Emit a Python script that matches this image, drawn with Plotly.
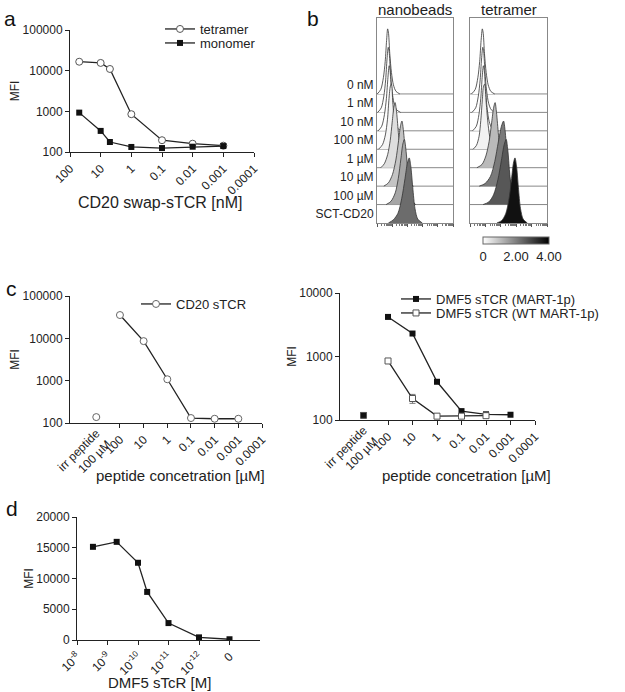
import plotly.graph_objects as go

W, H = 625, 692
FONT = "Arial, Liberation Sans, Helvetica, sans-serif"
INK = "#222222"

# ---------------- panel a ----------------
a_conc = [50, 10, 5, 1, 0.1, 0.01, 0.001]
a_tetramer = [16600, 15500, 11000, 850, 195, 160, 143]
a_tetramer_err = [0, 1400, 0, 90, 0, 8, 8]
a_monomer = [930, 330, 176, 133, 125, 135, 140]
a_xticks = [100, 10, 1, 0.1, 0.01, 0.001, 0.0001]
a_xticktext = ["100", "10", "1", "0.1", "0.01", "0.001", "0.0001"]
log_yticks = [100, 1000, 10000, 100000]

# ---------------- panel b ----------------
b_rows = ["0 nM", "1 nM", "10 nM", "100 nM", "1 µM", "10 µM", "100 µM", "SCT-CD20"]
nb_x = [
    [0.02, 0.25, 0.42, 0.54, 0.63, 0.70, 0.76, 0.84, 0.95, 1.08, 1.25, 1.50],
    [0.05, 0.28, 0.45, 0.57, 0.66, 0.74, 0.80, 0.88, 0.99, 1.12, 1.29, 1.55],
    [0.08, 0.31, 0.49, 0.62, 0.72, 0.80, 0.86, 0.94, 1.05, 1.18, 1.35, 1.60],
    [0.10, 0.36, 0.55, 0.69, 0.79, 0.88, 0.95, 1.04, 1.16, 1.30, 1.48, 1.72],
    [0.25, 0.48, 0.70, 0.87, 1.00, 1.11, 1.19, 1.29, 1.42, 1.56, 1.75, 1.98],
    [0.45, 0.75, 1.02, 1.24, 1.42, 1.55, 1.64, 1.74, 1.87, 2.00, 2.17, 2.40],
    [0.60, 0.92, 1.20, 1.40, 1.57, 1.70, 1.80, 1.90, 2.03, 2.16, 2.32, 2.55],
    [0.75, 1.08, 1.38, 1.63, 1.84, 2.00, 2.12, 2.22, 2.35, 2.50, 2.68, 2.98],
]
nb_y = [
    [0, 0.07, 0.25, 0.50, 0.82, 1.00, 0.93, 0.62, 0.33, 0.14, 0.04, 0],
    [0, 0.07, 0.25, 0.50, 0.82, 1.00, 0.93, 0.62, 0.33, 0.14, 0.04, 0],
    [0, 0.07, 0.25, 0.50, 0.82, 1.00, 0.93, 0.62, 0.33, 0.14, 0.04, 0],
    [0, 0.07, 0.22, 0.46, 0.78, 0.97, 1.00, 0.72, 0.38, 0.16, 0.05, 0],
    [0, 0.06, 0.20, 0.42, 0.70, 0.93, 1.00, 0.85, 0.50, 0.20, 0.05, 0],
    [0, 0.05, 0.18, 0.40, 0.70, 0.93, 1.00, 0.85, 0.50, 0.20, 0.05, 0],
    [0, 0.05, 0.18, 0.40, 0.70, 0.93, 1.00, 0.85, 0.50, 0.20, 0.05, 0],
    [0, 0.05, 0.15, 0.38, 0.68, 0.92, 1.00, 0.88, 0.55, 0.22, 0.06, 0],
]
nb_fill = ["#ffffff", "#ffffff", "#ffffff", "#f5f5f5", "#dedede", "#c4c4c4", "#a6a6a6", "#6c6c6c"]

tet_x = [
    [0.10, 0.34, 0.51, 0.63, 0.72, 0.80, 0.86, 0.94, 1.05, 1.18, 1.35, 1.60],
    [0.13, 0.37, 0.54, 0.66, 0.75, 0.83, 0.89, 0.97, 1.08, 1.21, 1.38, 1.63],
    [0.17, 0.41, 0.58, 0.70, 0.79, 0.87, 0.93, 1.01, 1.12, 1.25, 1.42, 1.67],
    [0.20, 0.42, 0.59, 0.70, 0.80, 0.88, 0.95, 1.05, 1.18, 1.32, 1.50, 1.78],
    [0.45, 0.78, 1.03, 1.24, 1.41, 1.54, 1.63, 1.72, 1.85, 1.98, 2.15, 2.40],
    [0.60, 0.98, 1.33, 1.61, 1.84, 2.04, 2.18, 2.28, 2.40, 2.52, 2.68, 2.90],
    [0.85, 1.22, 1.53, 1.81, 2.04, 2.22, 2.35, 2.45, 2.57, 2.70, 2.85, 3.10],
    [1.75, 2.07, 2.33, 2.54, 2.70, 2.82, 2.92, 3.02, 3.14, 3.28, 3.45, 3.72],
]
tet_y = [
    [0, 0.07, 0.25, 0.50, 0.82, 1.00, 0.93, 0.62, 0.33, 0.14, 0.04, 0],
    [0, 0.07, 0.25, 0.50, 0.82, 1.00, 0.93, 0.62, 0.33, 0.14, 0.04, 0],
    [0, 0.07, 0.25, 0.50, 0.82, 1.00, 0.93, 0.62, 0.33, 0.14, 0.04, 0],
    [0, 0.06, 0.20, 0.44, 0.76, 0.97, 1.00, 0.72, 0.37, 0.15, 0.05, 0],
    [0, 0.05, 0.18, 0.40, 0.70, 0.93, 1.00, 0.85, 0.50, 0.20, 0.05, 0],
    [0, 0.04, 0.15, 0.38, 0.68, 0.92, 1.00, 0.85, 0.50, 0.20, 0.05, 0],
    [0, 0.04, 0.15, 0.38, 0.68, 0.92, 1.00, 0.85, 0.50, 0.20, 0.05, 0],
    [0, 0.04, 0.15, 0.38, 0.68, 0.92, 1.00, 0.88, 0.55, 0.22, 0.06, 0],
]
tet_fill = ["#ffffff", "#ffffff", "#ffffff", "#f2f2f2", "#bababa", "#7a7a7a", "#575757", "#111111"]
cbar_ticks = [0, 2, 4]
cbar_text = ["0", "2.00", "4.00"]

# ---------------- panel c ----------------
c_cats = ["irr", "100", "10", "1", "0.1", "0.01", "0.001", "0.0001"]
c_irr_label = "irr peptide<br>100 µM"
cl_irr = [138]
cl_x = ["100", "10", "1", "0.1", "0.01", "0.001"]
cl_mfi = [35500, 8600, 1080, 131, 126, 126]
cr_irr_mart = [120]
cr_irr_wt = [118]
cr_mart_x = ["100", "10", "1", "0.1", "0.01", "0.001"]
cr_mart = [4200, 2300, 400, 138, 123, 121]
cr_wt_x = ["100", "10", "1", "0.1", "0.01"]
cr_wt = [850, 218, 115, 115, 117]
cr_wt_err = [30, 35, 0, 0, 0]

# ---------------- panel d ----------------
d_conc = [3e-9, 5e-10, 1e-10, 5e-11, 1e-11, 1e-12, 0]
d_mfi = [15150, 15960, 12560, 7820, 2750, 430, 120]
d_xticks = [1e-8, 1e-9, 1e-10, 1e-11, 1e-12, 0]
d_xticktext = ["10<sup>-8</sup>", "10<sup>-9</sup>", "10<sup>-10</sup>",
               "10<sup>-11</sup>", "10<sup>-12</sup>", "0"]
d_yticks = [0, 5000, 10000, 15000, 20000]
ZERO_POS = 1e-13  # position of the "0" category on the log axis


def fx(p):
    return p / W


def fy(p):
    return 1 - p / H


def dom_x(a, b):
    return [fx(a), fx(b)]


def dom_y(top, bottom):
    return [fy(bottom), fy(top)]


fig = go.Figure()
ERR = dict(type="data", thickness=1, width=3, color="#777")

# ---- panel a traces
fig.add_trace(go.Scatter(
    x=a_conc, y=a_tetramer, name="tetramer", mode="lines+markers",
    error_y=dict(ERR, array=a_tetramer_err),
    line=dict(color=INK, width=1.3),
    marker=dict(symbol="circle", size=7, color="white", line=dict(color="#555", width=1)),
    xaxis="x", yaxis="y", legend="legend"))
fig.add_trace(go.Scatter(
    x=a_conc, y=a_monomer, name="monomer", mode="lines+markers",
    line=dict(color=INK, width=1.3),
    marker=dict(symbol="square", size=6, color="#111"),
    xaxis="x", yaxis="y", legend="legend4"))

# ---- panel b traces
ROW_UNIT_PEAK = 3.53
n_rows = len(b_rows)
for xs_all, ys_all, fills, xa, ya in [(nb_x, nb_y, nb_fill, "x2", "y2"),
                                      (tet_x, tet_y, tet_fill, "x3", "y3")]:
    for i in range(n_rows):
        base = n_rows - 1 - i
        fig.add_trace(go.Scatter(
            x=xs_all[i], y=[base + v * ROW_UNIT_PEAK for v in ys_all[i]],
            mode="lines", line=dict(color="#333", width=0.8, shape="spline", smoothing=0.8),
            fill="toself", fillcolor=fills[i], showlegend=False,
            xaxis=xa, yaxis=ya, hoverinfo="skip"))

# colour bar (gradient legend for panel b)
fig.add_trace(go.Scatter(
    x=[None], y=[None], mode="markers", showlegend=False, xaxis="x3", yaxis="y3",
    marker=dict(color=[0], cmin=0, cmax=4, colorscale=[[0, "white"], [1, "black"]],
                showscale=True,
                colorbar=dict(orientation="h", x=fx(516), xanchor="center",
                              y=fy(237), yanchor="top", len=66 / W, lenmode="fraction",
                              thickness=7, thicknessmode="pixels", outlinewidth=1,
                              outlinecolor="#666", tickvals=cbar_ticks, ticktext=cbar_text,
                              ticks="", tickfont=dict(size=13, color=INK, family=FONT),
                              xpad=0, ypad=0))))

# ---- panel c traces
fig.add_trace(go.Scatter(
    x=cl_x, y=cl_mfi, name="CD20 sTCR", mode="lines+markers",
    line=dict(color=INK, width=1.3),
    marker=dict(symbol="circle", size=7, color="white", line=dict(color="#666", width=1)),
    xaxis="x4", yaxis="y4", legend="legend2"))
fig.add_trace(go.Scatter(
    x=["irr"], y=cl_irr, mode="markers", showlegend=False,
    marker=dict(symbol="circle", size=7, color="white", line=dict(color="#666", width=1)),
    xaxis="x4", yaxis="y4"))

fig.add_trace(go.Scatter(
    x=cr_mart_x, y=cr_mart, name="DMF5 sTCR (MART-1p)", mode="lines+markers",
    line=dict(color=INK, width=1.3),
    marker=dict(symbol="square", size=6, color="#111"),
    xaxis="x5", yaxis="y5", legend="legend3"))
fig.add_trace(go.Scatter(
    x=cr_wt_x, y=cr_wt, name="DMF5 sTCR (WT MART-1p)", mode="lines+markers",
    error_y=dict(ERR, array=cr_wt_err),
    line=dict(color=INK, width=1.3),
    marker=dict(symbol="square", size=6, color="white", line=dict(color="#555", width=1)),
    xaxis="x5", yaxis="y5", legend="legend5"))
fig.add_trace(go.Scatter(
    x=["irr"], y=cr_irr_mart, mode="markers", showlegend=False,
    marker=dict(symbol="square", size=6, color="#111"), xaxis="x5", yaxis="y5"))
fig.add_trace(go.Scatter(
    x=["irr"], y=cr_irr_wt, mode="markers", showlegend=False,
    marker=dict(symbol="square-open", size=6, color="#555"), xaxis="x5", yaxis="y5"))

# invisible traces to make the overlay label axes render
fig.add_trace(go.Scatter(x=["irr"], y=[None], showlegend=False, xaxis="x7", yaxis="y4"))
fig.add_trace(go.Scatter(x=["irr"], y=[None], showlegend=False, xaxis="x8", yaxis="y5"))

# ---- panel d traces
fig.add_trace(go.Scatter(
    x=[c if c > 0 else ZERO_POS for c in d_conc], y=d_mfi, mode="lines+markers",
    showlegend=False, line=dict(color=INK, width=1.3),
    marker=dict(symbol="square", size=6, color="#111"), xaxis="x6", yaxis="y6"))

# ---------------- layout ----------------
tickfont = dict(size=12, color=INK, family=FONT)
ytitle = dict(text="MFI", font=dict(size=12, color=INK, family=FONT), standoff=0)
axis_common = dict(showline=True, linecolor=INK, linewidth=1, ticks="outside",
                   ticklen=4, tickcolor=INK, showgrid=False, zeroline=False,
                   tickfont=tickfont, automargin=False)
box_common = dict(showline=True, mirror=True, linecolor="#888", linewidth=1,
                  showgrid=False, zeroline=False, automargin=False)
minor_vals = [d + f for d in range(5) for f in (0.3, 0.48, 0.6, 0.7, 0.78, 0.85, 0.9, 0.95)]


def legend_at(xpx, ypx, size=13):
    return dict(x=fx(xpx), y=fy(ypx), xanchor="left", yanchor="middle",
                font=dict(size=size, color=INK, family=FONT), bgcolor="rgba(0,0,0,0)",
                itemwidth=30, borderwidth=0)


layout = dict(
    width=W, height=H, margin=dict(l=0, r=0, t=0, b=0, autoexpand=False),
    paper_bgcolor="white", plot_bgcolor="white",
    font=dict(family=FONT, color=INK),
    # panel a
    xaxis=dict(axis_common, type="log", domain=dom_x(70, 254), anchor="y",
               range=[2, -4], tickmode="array", tickvals=a_xticks, ticktext=a_xticktext,
               tickangle=-45),
    yaxis=dict(axis_common, type="log", domain=dom_y(30, 152), anchor="x",
               range=[2, 5], tickmode="array", tickvals=log_yticks,
               ticktext=[str(v) for v in log_yticks], title=ytitle),
    # panel b nanobeads / tetramer
    xaxis2=dict(box_common, domain=dom_x(377, 453), anchor="y2", range=[0, 5],
                ticks="outside", ticklen=3, tickcolor="#555",
                tickvals=[0, 1, 2, 3, 4, 5], showticklabels=False,
                minor=dict(ticks="outside", ticklen=2, tickcolor="#777", tickvals=minor_vals)),
    yaxis2=dict(box_common, domain=dom_y(18, 223), anchor="x2", range=[0, 11.12],
                ticks="", tickmode="array",
                tickvals=[n_rows - 1 - i + 0.5 for i in range(n_rows)], ticktext=b_rows,
                tickfont=dict(size=12, color=INK, family=FONT)),
    xaxis3=dict(box_common, domain=dom_x(470, 547), anchor="y3", range=[0, 5],
                ticks="outside", ticklen=3, tickcolor="#555",
                tickvals=[0, 1, 2, 3, 4, 5], showticklabels=False,
                minor=dict(ticks="outside", ticklen=2, tickcolor="#777", tickvals=minor_vals)),
    yaxis3=dict(box_common, domain=dom_y(18, 223), anchor="x3", range=[0, 11.12],
                ticks="", showticklabels=False),
    # panel c left
    xaxis4=dict(axis_common, type="category", categoryorder="array", categoryarray=c_cats,
                domain=dom_x(70, 262), anchor="y4", range=[-1.11, 7], tickmode="array",
                tickvals=c_cats[1:], ticktext=c_cats[1:], tickangle=-45),
    yaxis4=dict(axis_common, type="log", domain=dom_y(296, 423), anchor="x4",
                range=[2, 5], tickmode="array", tickvals=log_yticks,
                ticktext=[str(v) for v in log_yticks], title=ytitle),
    xaxis7=dict(type="category", categoryorder="array", categoryarray=c_cats,
                domain=dom_x(70, 262), anchor="y4", overlaying="x4", range=[-1.11, 7],
                tickmode="array", tickvals=["irr"], ticktext=[c_irr_label], ticks="",
                tickangle=-45, showline=False, showgrid=False, zeroline=False,
                tickfont=tickfont, automargin=False),
    # panel c right
    xaxis5=dict(axis_common, type="category", categoryorder="array", categoryarray=c_cats,
                domain=dom_x(340, 535), anchor="y5", range=[-0.96, 7], tickmode="array",
                tickvals=c_cats[1:], ticktext=c_cats[1:], tickangle=-45),
    yaxis5=dict(axis_common, type="log", domain=dom_y(293, 420), anchor="x5",
                range=[2, 4], tickmode="array", tickvals=log_yticks[:3],
                ticktext=[str(v) for v in log_yticks[:3]], title=ytitle),
    xaxis8=dict(type="category", categoryorder="array", categoryarray=c_cats,
                domain=dom_x(340, 535), anchor="y5", overlaying="x5", range=[-0.96, 7],
                tickmode="array", tickvals=["irr"], ticktext=[c_irr_label], ticks="",
                tickangle=-45, showline=False, showgrid=False, zeroline=False,
                tickfont=tickfont, automargin=False),
    # panel d
    xaxis6=dict(axis_common, type="log", domain=dom_x(77, 260), anchor="y6",
                range=[-8, -14], tickmode="array",
                tickvals=[v if v > 0 else ZERO_POS for v in d_xticks], ticktext=d_xticktext,
                tickangle=-45),
    yaxis6=dict(axis_common, domain=dom_y(517, 640), anchor="x6", range=[0, 20000],
                tickmode="array", tickvals=d_yticks, ticktext=[str(v) for v in d_yticks],
                title=ytitle),
    legend=legend_at(160, 29),
    legend4=legend_at(160, 43),
    legend2=legend_at(136, 304),
    legend3=legend_at(396, 299),
    legend5=legend_at(396, 313),
)
fig.update_layout(**layout)

# row separators in the histogram panels
for xa, ya in [("x2", "y2"), ("x3", "y3")]:
    for k in range(1, n_rows):
        fig.add_shape(type="line", xref=f"{xa} domain", yref=ya, x0=0, x1=1, y0=k, y1=k,
                      line=dict(color="#888", width=1), layer="below")

# x-axis titles (placed as in the original figure)
for text, cx, cy, fs in [("CD20 swap-sTCR [nM]", 160, 202, 16),
                         ("peptide concetration [µM]", 180, 475, 15),
                         ("peptide concetration [µM]", 466, 475, 15),
                         ("DMF5 sTcR [M]", 159, 682, 15)]:
    fig.add_annotation(text=text, xref="paper", yref="paper", x=fx(cx), y=fy(cy),
                       xanchor="center", yanchor="middle", showarrow=False,
                       font=dict(size=fs, color=INK, family=FONT))

# panel titles and letters
fig.add_annotation(text="nanobeads", xref="x2 domain", yref="y2 domain", x=0.5, y=1,
                   xanchor="center", yanchor="bottom", showarrow=False, yshift=-2,
                   font=dict(size=15, color=INK, family=FONT))
fig.add_annotation(text="tetramer", xref="x3 domain", yref="y3 domain", x=0.5, y=1,
                   xanchor="center", yanchor="bottom", showarrow=False, yshift=-2,
                   font=dict(size=15, color=INK, family=FONT))
for letter, px_, py_ in [("a", 2, 5), ("b", 305, 5), ("c", 4, 275), ("d", 4, 495)]:
    fig.add_annotation(text=letter, xref="paper", yref="paper", x=fx(px_), y=fy(py_),
                       xanchor="left", yanchor="top", showarrow=False,
                       font=dict(size=21, color="#111", family=FONT))

fig.write_html("out.html", config={"displayModeBar": False},
               post_script="document.body.style.margin='0';")
